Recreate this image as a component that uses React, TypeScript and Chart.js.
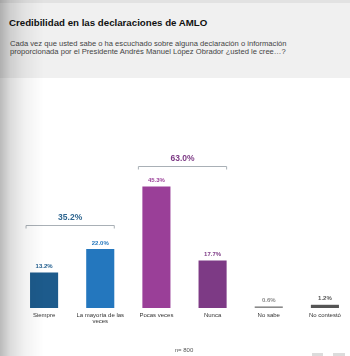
import React, { useEffect, useRef } from "react";
import { Chart, registerables } from "chart.js";

Chart.register(...registerables);

const categories: (string | string[])[] = [
  "Siempre",
  ["La mayoría de las", "veces"],
  "Pocas veces",
  "Nunca",
  "No sabe",
  "No contestó",
];
const values = [13.2, 22.0, 45.3, 17.7, 0.6, 1.2];
const valueLabels = ["13.2%", "22.0%", "45.3%", "17.7%", "0.6%", "1.2%"];
const barColors = ["#1d5b8c", "#2477be", "#9a3f98", "#7d3a85", "#8a8a8a", "#555555"];
const labelColors = ["#1d5b8c", "#2477be", "#9a3f98", "#7d3a85", "#8a8a8a", "#555555"];
const groupLabels = ["35.2%", "63.0%"];
const groupStart = [0, 2];
const groupEnd = [1, 3];
const groupColors = ["#2f6690", "#7d3a85"];
const titleText = "Credibilidad en las declaraciones de AMLO";
const subtitleLines = [
  "Cada vez que usted sabe o ha escuchado sobre alguna declaración o información",
  "proporcionada por el Presidente Andrés Manuel López Obrador ¿usted le cree…?",
];
const nLabel = "n= 800";

const FONT = "'Liberation Sans', Arial, Helvetica, sans-serif";
const bracketOffsets = [24, 21];

const overlayPlugin = {
  id: "overlay",
  afterDatasetsDraw(chart: any) {
    const ctx = chart.ctx;
    const meta = chart.getDatasetMeta(0);
    const bars = meta.data;
    ctx.save();
    ctx.textAlign = "center";
    ctx.textBaseline = "middle";
    ctx.font = `bold 6px ${FONT}`;
    bars.forEach((bar: any, i: number) => {
      ctx.fillStyle = labelColors[i];
      ctx.fillText(valueLabels[i], bar.x, bar.y - 6);
    });
    groupLabels.forEach((lab, g) => {
      const b0 = bars[groupStart[g]];
      const b1 = bars[groupEnd[g]];
      const left = b0.x - b0.width / 2 - 4;
      const right = b1.x + b1.width / 2;
      let top = Infinity;
      for (let k = groupStart[g]; k <= groupEnd[g]; k++) top = Math.min(top, bars[k].y);
      const ly = Math.round(top - bracketOffsets[g]) + 0.5;
      ctx.strokeStyle = "#a9b0b6";
      ctx.lineWidth = 1;
      ctx.beginPath();
      ctx.moveTo(left, ly + 3);
      ctx.lineTo(left, ly);
      ctx.lineTo(right, ly);
      ctx.lineTo(right, ly + 3);
      ctx.stroke();
      ctx.fillStyle = groupColors[g];
      ctx.font = `bold 8.5px ${FONT}`;
      ctx.fillText(lab, (left + right) / 2, ly - 8);
    });
    ctx.restore();
  },
};

export default function App() {
  const ref = useRef<HTMLCanvasElement>(null);
  useEffect(() => {
    if (!ref.current) return;
    const chart = new Chart(ref.current, {
      type: "bar",
      data: {
        labels: categories as any,
        datasets: [
          {
            data: values,
            backgroundColor: barColors,
            borderWidth: 0,
            barPercentage: 0.5,
            categoryPercentage: 1,
          },
        ],
      },
      options: {
        responsive: false,
        animation: false,
        devicePixelRatio: 1,
        layout: { padding: { left: 16, right: 7, top: 40, bottom: 28 } },
        plugins: { legend: { display: false }, tooltip: { enabled: false } },
        scales: {
          x: {
            grid: { display: false, drawTicks: false, tickLength: 0 },
            border: { display: false },
            ticks: {
              autoSkip: false,
              maxRotation: 0,
              minRotation: 0,
              padding: 4,
              color: "#333333",
              font: { family: FONT, size: 6, lineHeight: 1.0 },
            },
          },
          y: { display: false, min: 0, max: 100 },
        },
      },
      plugins: [overlayPlugin],
    });
    return () => chart.destroy();
  }, []);

  return (
    <div
      style={{
        position: "fixed",
        left: 0,
        top: 0,
        width: 350,
        height: 356,
        overflow: "hidden",
        background: "#ffffff",
        fontFamily: FONT,
      }}
    >
      <div style={{ position: "absolute", left: 0, top: 0, width: 350, height: 3, background: "#e2e2e2" }} />
      <div style={{ position: "absolute", left: 0, top: 3, width: 350, height: 75, background: "#f0f0f0" }} />
      <div
        style={{
          position: "absolute",
          left: 9,
          top: 17,
          fontSize: 9.7,
          fontWeight: "bold",
          color: "#111",
          whiteSpace: "nowrap",
          lineHeight: "12px",
        }}
      >
        {titleText}
      </div>
      <div
        style={{
          position: "absolute",
          left: 10,
          top: 39.5,
          fontSize: 7.6,
          color: "#444",
          whiteSpace: "nowrap",
          lineHeight: "8.3px",
        }}
      >
        {subtitleLines.map((l, i) => (
          <div key={i}>{l}</div>
        ))}
      </div>
      <canvas
        ref={ref}
        width={360}
        height={356}
        style={{ position: "absolute", left: 0, top: 0, width: 360, height: 356 }}
      />
      <div
        style={{
          position: "absolute",
          left: 0,
          top: 345,
          width: 368,
          textAlign: "center",
          fontSize: 6,
          color: "#555",
          lineHeight: "10px",
        }}
      >
        {nLabel}
      </div>
      <div style={{ position: "absolute", left: 312, top: 353, width: 11, height: 3, background: "#dcdcdc" }} />
      <div style={{ position: "absolute", left: 333, top: 353, width: 12, height: 3, background: "#dcdcdc" }} />
      <div
        style={{
          position: "absolute",
          left: 0,
          top: 0,
          width: 44,
          height: 356,
          pointerEvents: "none",
          background:
            "linear-gradient(to right, rgba(0,0,0,0.27) 0px, rgba(0,0,0,0.14) 10px, rgba(0,0,0,0.05) 25px, rgba(0,0,0,0) 44px)",
        }}
      />
    </div>
  );
}
